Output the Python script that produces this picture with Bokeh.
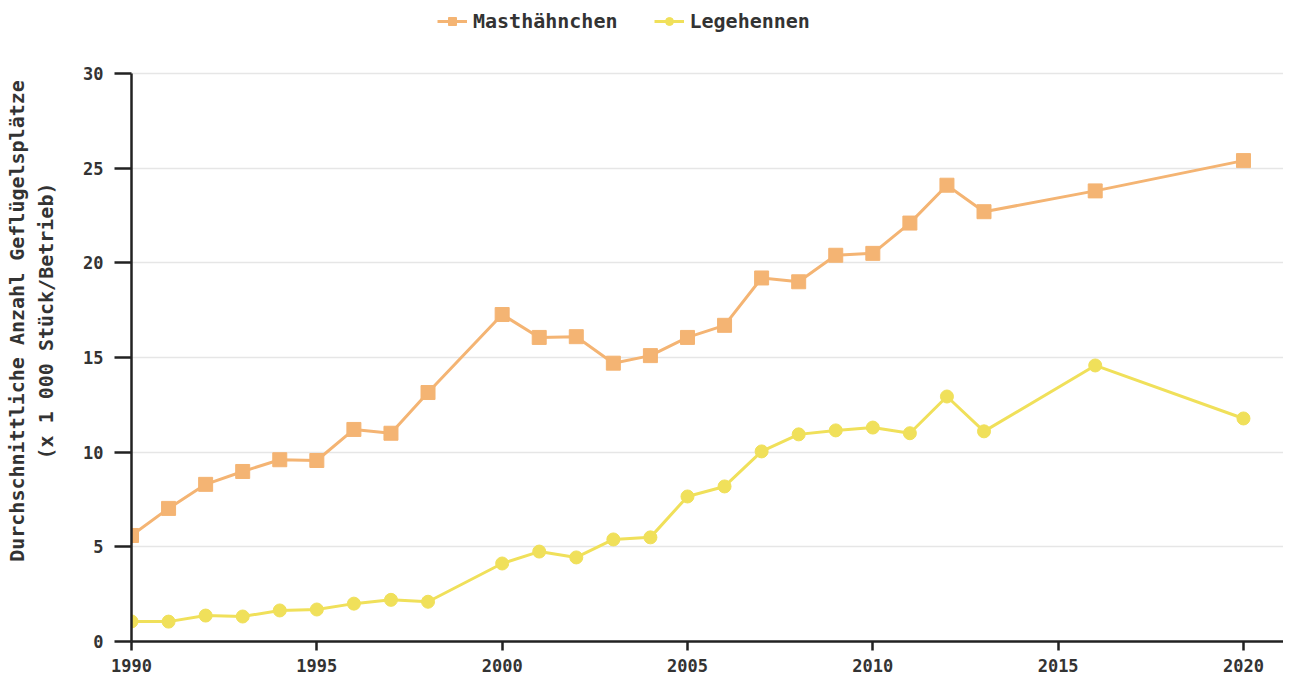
from bokeh.plotting import figure
from bokeh.models import Legend, LegendItem, FixedTicker, Range1d
from bokeh.embed import file_html
from bokeh.resources import INLINE

years_m = [1990, 1991, 1992, 1993, 1994, 1995, 1996, 1997, 1998, 2000, 2001, 2002, 2003,
           2004, 2005, 2006, 2007, 2008, 2009, 2010, 2011, 2012, 2013, 2016, 2020]
masthaehnchen = [5.6, 7.03, 8.3, 8.98, 9.6, 9.56, 11.2, 11.0, 13.15, 17.27, 16.06, 16.1, 14.7,
                 15.1, 16.06, 16.7, 19.2, 19.0, 20.4, 20.5, 22.1, 24.1, 22.7, 23.8, 25.4]
years_l = years_m
legehennen = [1.06, 1.05, 1.37, 1.32, 1.64, 1.69, 2.0, 2.2, 2.1, 4.12, 4.75, 4.44, 5.39,
              5.5, 7.66, 8.19, 10.04, 10.94, 11.15, 11.3, 11.0, 12.94, 11.1, 14.58, 11.78]
x_ticks = [1990, 1995, 2000, 2005, 2010, 2015, 2020]
y_ticks = [0, 5, 10, 15, 20, 25, 30]

ORANGE = "#F4B473"
YELLOW = "#F0E05A"
FONT = "DejaVu Sans Mono"
TXT = "#333333"

p = figure(output_backend="svg", toolbar_location=None, title=None,
           x_range=Range1d(1990, 2021.08), y_range=Range1d(0, 33.856),
           frame_width=1152, frame_height=641,
           min_border_left=131, min_border_right=0, min_border_bottom=31, min_border_top=0)
p.outline_line_color = None
p.background_fill_color = "white"
p.border_fill_color = "white"

l1 = p.line(years_m, masthaehnchen, line_color=ORANGE, line_width=3)
m1 = p.scatter(years_m, masthaehnchen, marker="square", size=14, fill_color=ORANGE, line_color=ORANGE)
l2 = p.line(years_l, legehennen, line_color=YELLOW, line_width=3)
m2 = p.scatter(years_l, legehennen, marker="circle", size=13, fill_color=YELLOW, line_color=YELLOW)

p.xgrid.grid_line_color = None
p.ygrid.grid_line_color = "#e6e6e6"
p.ygrid.grid_line_width = 1.5
p.xaxis.ticker = FixedTicker(ticks=x_ticks)
p.yaxis.ticker = FixedTicker(ticks=y_ticks)
p.yaxis.bounds = (0, 30)

for ax in (p.xaxis[0], p.yaxis[0]):
    ax.axis_line_color = "#222222"
    ax.axis_line_width = 2.5
    ax.major_tick_line_color = "#222222"
    ax.major_tick_line_width = 2.5
    ax.minor_tick_line_color = None
    ax.major_tick_in = 0
    ax.major_label_text_font = FONT
    ax.major_label_text_font_style = "bold"
    ax.major_label_text_font_size = "17px"
    ax.major_label_text_color = TXT

p.yaxis.major_tick_out = 17
p.yaxis.major_label_standoff = 11
p.xaxis.major_tick_out = 9
p.xaxis.major_label_standoff = 8

p.yaxis.axis_label = "Durchschnittliche Anzahl Geflügelsplätze\n(x 1 000 Stück/Betrieb)"
p.yaxis.axis_label_text_font = FONT
p.yaxis.axis_label_text_font_style = "bold"
p.yaxis.axis_label_text_font_size = "20px"
p.yaxis.axis_label_text_color = TXT
p.yaxis.axis_label_standoff = 22

legend = Legend(items=[LegendItem(label="Masthähnchen", renderers=[l1, m1]),
                       LegendItem(label="Legehennen", renderers=[l2, m2])],
                orientation="horizontal", location=(306, 608),
                label_text_font=FONT, label_text_font_style="bold",
                label_text_font_size="20px", label_text_color=TXT,
                border_line_color=None, background_fill_alpha=0,
                glyph_width=30, spacing=36, margin=0, padding=4, label_standoff=6)
p.add_layout(legend, "center")

open("out.html", "w").write(file_html(p, INLINE))
